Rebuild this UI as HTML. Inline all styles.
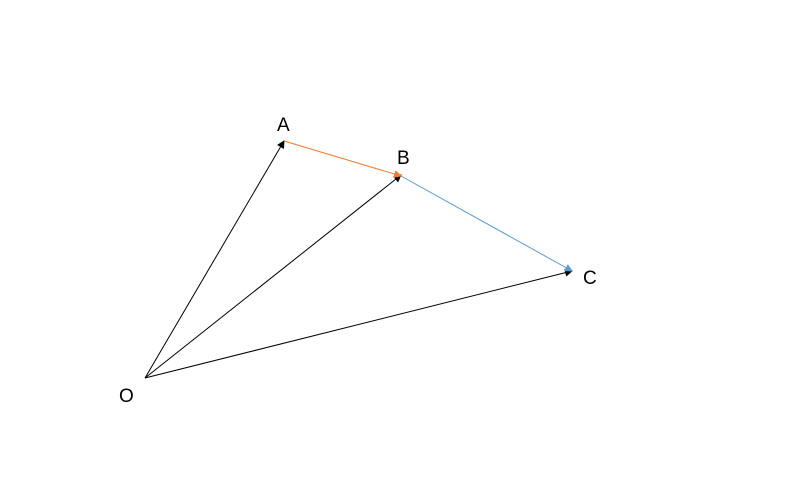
<!DOCTYPE html>
<html><head><style>body{margin:0;background:#fff;width:800px;height:499px;overflow:hidden}</style></head>
<body>
<svg width="800" height="499" xmlns="http://www.w3.org/2000/svg">
<defs>
<marker id="k" markerWidth="8" markerHeight="8" refX="7" refY="4" orient="auto" markerUnits="userSpaceOnUse"><path d="M0,0 L8,4 L0,8 z" fill="#000"/></marker>
<marker id="o" markerWidth="8" markerHeight="8" refX="7" refY="4" orient="auto" markerUnits="userSpaceOnUse"><path d="M0,0 L8,4 L0,8 z" fill="#ED7D31"/></marker>
<marker id="b" markerWidth="8" markerHeight="8" refX="7" refY="4" orient="auto" markerUnits="userSpaceOnUse"><path d="M0,0 L8,4 L0,8 z" fill="#5B9BD5"/></marker>
</defs>
<g stroke-width="1" fill="none">
<line x1="145" y1="378" x2="284" y2="141" stroke="#000" marker-end="url(#k)"/>
<line x1="145" y1="378" x2="401" y2="175" stroke="#000" marker-end="url(#k)"/>
<line x1="145" y1="378" x2="572" y2="271" stroke="#000" marker-end="url(#k)"/>
<line x1="284" y1="141" x2="401" y2="176" stroke="#ED7D31" marker-end="url(#o)"/>
<line x1="401" y1="176" x2="572" y2="271" stroke="#5B9BD5" marker-end="url(#b)"/>
</g>
<g font-family="Liberation Sans, sans-serif" font-size="19" fill="#000">
<text x="277" y="131">A</text>
<text x="397" y="164">B</text>
<text x="583" y="284">C</text>
<text x="119" y="402">O</text>
</g>
</svg>
</body></html>
